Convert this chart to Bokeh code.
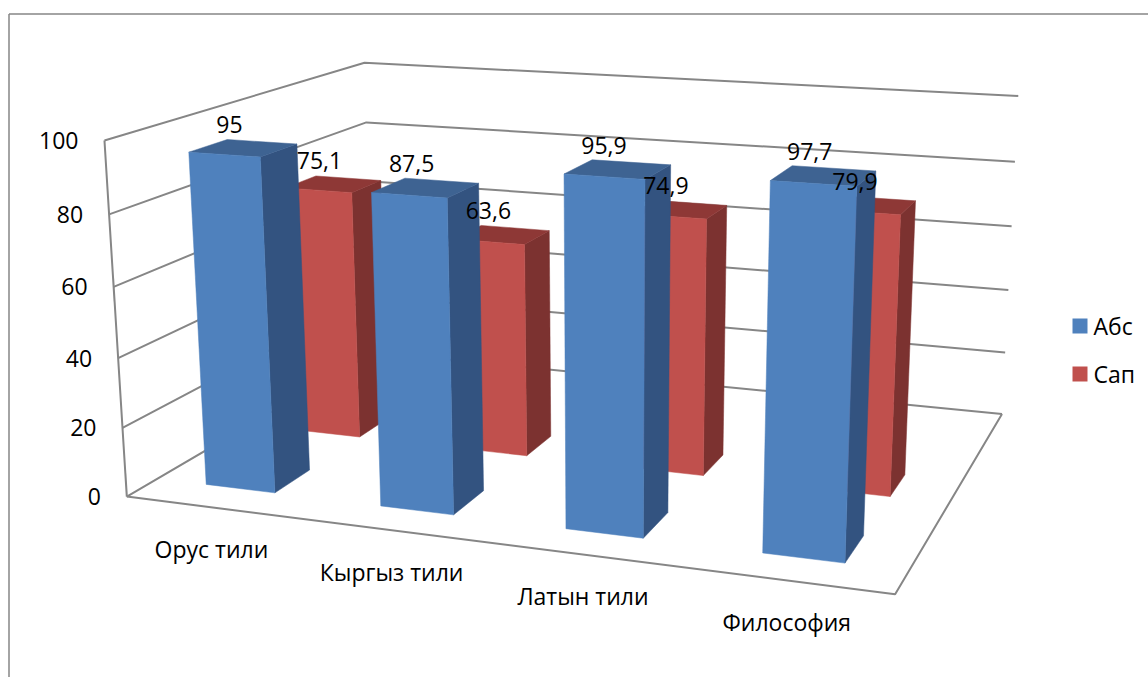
import numpy as np
from bokeh.plotting import figure
from bokeh.embed import file_html
from bokeh.resources import INLINE
from bokeh.core.properties import value

categories = ["Орус тили", "Кыргыз тили", "Латын тили", "Философия"]
series_names = ["Абс", "Сап"]
abs_values = [95, 87.5, 95.9, 97.7]
sap_values = [75.1, 63.6, 74.9, 79.9]
abs_labels = ["95", "87,5", "95,9", "97,7"]
sap_labels = ["75,1", "63,6", "74,9", "79,9"]
z_ticks = [0, 20, 40, 60, 80, 100]

# camera calibration: model box corner (x, depth, z/100) -> page pixel
CAL = [((0, 0, 0), (125, 494)), ((1, 0, 0), (895, 595)), ((1, 1, 0), (1001, 412)),
       ((0, 1, 0), (374, 354)), ((0, 0, 1), (105, 141)), ((0, 1, 1), (363, 61)),
       ((1, 1, 1), (1018, 96))]
A, B = [], []
for (X, Y, Z), (u, v) in CAL:
    A.append([X, Y, Z, 1, 0, 0, 0, 0, -u * X, -u * Y, -u * Z]); B.append(u)
    A.append([0, 0, 0, 0, X, Y, Z, 1, -v * X, -v * Y, -v * Z]); B.append(v)
h = np.linalg.lstsq(np.array(A, float), np.array(B, float), rcond=None)[0]
P = np.append(h, 1.0).reshape(3, 4)


def proj(x, d, z):
    q = P @ np.array([x, d, z / 100.0, 1.0])
    return q[0] / q[2], q[1] / q[2]


def path(*pts):
    a = [proj(*t) for t in pts]
    return [t[0] for t in a], [t[1] for t in a]


FONT = value("Open Sans")
p = figure(width=1148, height=677, x_range=(0, 1148), y_range=(677, 0),
           output_backend="svg", toolbar_location=None, min_border=0,
           x_axis_location=None, y_axis_location=None)
p.grid.visible = False
p.outline_line_color = None
p.background_fill_color = "white"

GRID = "#868686"
# chart-area frame
p.line([8.5, 1148], [13.5, 13.5], line_color=GRID, line_width=1.5)
p.line([8.5, 8.5], [13.5, 677], line_color=GRID, line_width=1.5)

# walls and floor
xs, ys = [], []
for t in z_ticks:
    a, b = path((0, 0, t), (0, 1, t), (1, 1, t))
    xs.append(a); ys.append(b)
a, b = path((0, 0, 0), (0, 0, 100)); xs.append(a); ys.append(b)
a, b = path((0, 0, 0), (1, 0, 0), (1, 1, 0)); xs.append(a); ys.append(b)
p.multi_line(xs, ys, line_color=GRID, line_width=2)

BAR_W = 0.1003
X_START = 0.072
X_STEP = 0.2505
ROWS = [(0.104, 0.237), (0.445, 0.57)]
STYLE = [("#4F81BD", "#335380", "#3E6392"), ("#C0504D", "#7C3230", "#8E3836")]


def bar(i, row, val):
    x0 = X_START + X_STEP * i
    x1 = x0 + BAR_W
    d0, d1 = ROWS[row]
    front, side, top = STYLE[row]
    for col, pts in (
        (side, [(x1, d0, 0), (x1, d1, 0), (x1, d1, val), (x1, d0, val)]),
        (top, [(x0, d0, val), (x1, d0, val), (x1, d1, val), (x0, d1, val)]),
        (front, [(x0, d0, 0), (x1, d0, 0), (x1, d0, val), (x0, d0, val)]),
    ):
        a, b = path(*pts)
        p.patch(a, b, fill_color=col, line_color=col, line_width=0.5)


for i, v in enumerate(sap_values):
    bar(i, 1, v)
for i, v in enumerate(abs_values):
    bar(i, 0, v)

TS = "23px"
# value-axis labels
for t in z_ticks:
    u, w = proj(0, 0, t)
    p.text([u - 26], [w], text=[str(t)], text_font=FONT, text_font_size=TS,
           text_align="right", text_baseline="middle", text_color="black")

# category labels
for i, c in enumerate(categories):
    u, w = proj((i + 0.5) / 4, 0, 0)
    p.text([u - 1.5], [w + 41.5], text=[c], text_font=FONT, text_font_size=TS,
           text_align="center", text_baseline="middle", text_color="black")

# data labels
for row, (vals, labs) in enumerate(((abs_values, abs_labels), (sap_values, sap_labels))):
    for i, (v, l) in enumerate(zip(vals, labs)):
        u, w = proj(X_START + X_STEP * i + BAR_W / 2, sum(ROWS[row]) / 2, v)
        p.text([u - 14], [w - 24], text=[l], text_font=FONT, text_font_size=TS,
               text_align="center", text_baseline="middle", text_color="black")

# legend
for k, name in enumerate(series_names):
    yc = 325.5 + 48 * k
    p.quad(left=[1072], right=[1087], top=[yc - 7.5], bottom=[yc + 7.5],
           fill_color=STYLE[k][0], line_color=None)
    p.text([1093], [yc], text=[name], text_font=FONT, text_font_size=TS,
           text_align="left", text_baseline="middle", text_color="black")

open("out.html", "w").write(file_html(p, INLINE))
